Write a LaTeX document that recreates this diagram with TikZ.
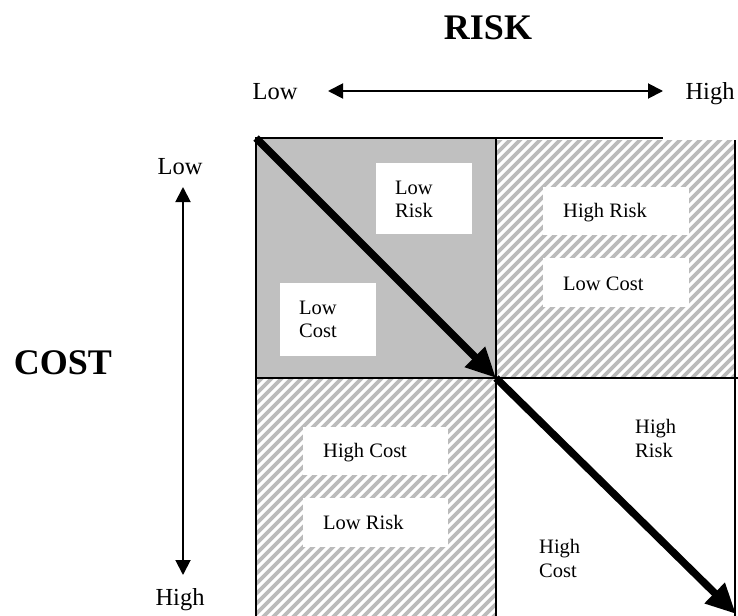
\documentclass[tikz,border=0pt]{standalone}
\usepackage{fontspec}
\setmainfont{Liberation Serif}
\usetikzlibrary{arrows.meta}
\definecolor{cellgray}{HTML}{C0C0C0}
\definecolor{hatchgray}{HTML}{BBBBBB}
\tikzset{
  grid line/.style={draw=black, line width=2.6pt},
  hatchline/.style={draw=hatchgray, line width=3.8pt},
  whitebox/.style={draw=none, fill=white, inner sep=0pt, anchor=north west},
  cell text/.style={font=\fontsize{20.5}{23.5}\selectfont, anchor=base west, inner sep=0pt},
  axis text/.style={font=\fontsize{24.5}{28}\selectfont, anchor=base, inner sep=0pt},
  title text/.style={font=\bfseries\fontsize{36}{40}\selectfont, anchor=base, inner sep=0pt},
  thin arrow/.style={line width=1.9pt, {Triangle[length=15pt,width=15pt]}-{Triangle[length=15pt,width=15pt]}},
  path arrow/.style={line width=7.5pt, -{Triangle[length=30pt,width=27pt]}}
}
\begin{document}
\begin{tikzpicture}[x=1pt, y=-1pt]
  \useasboundingbox (0,0) rectangle (738,615);

  % grid corners
  \coordinate (tl) at (256,138);
  \coordinate (c)  at (496,378);
  \coordinate (br) at (736,614);

  % top-left quadrant: solid grey
  \fill[cellgray] (256,138) rectangle (496,378);

  % top-right quadrant: diagonal hatching
  \begin{scope}
    \clip (496,140) rectangle (735,378);
    \foreach \k in {490,500,...,1130} \draw[hatchline] (\k,0) -- ({\k-700},700);
  \end{scope}
  % bottom-left quadrant: diagonal hatching
  \begin{scope}
    \clip (256,378) rectangle (496,615);
    \foreach \k in {620,630,...,1130} \draw[hatchline] (\k,0) -- ({\k-700},700);
  \end{scope}

  % white label panels
  \node[whitebox, minimum width=96pt, minimum height=71pt] (bLR) at (376,163) {};
  \node[whitebox, minimum width=96pt, minimum height=73pt] (bLC) at (280,283) {};
  \node[whitebox, minimum width=146pt, minimum height=48pt] (bHR) at (543,187) {};
  \node[whitebox, minimum width=146pt, minimum height=49pt] (bLC2) at (543,258) {};
  \node[whitebox, minimum width=145pt, minimum height=48pt] (bHC) at (303,427) {};
  \node[whitebox, minimum width=145pt, minimum height=49pt] (bLR2) at (303,498) {};

  % grid lines
  \draw[grid line] (256,138) -- (663,138);
  \draw[grid line] (256,137) -- (256,616);
  \draw[grid line] (496,137) -- (496,616);
  \draw[grid line] (735,140) -- (735,616);
  \draw[grid line] (255,378) -- (738,378);

  % diagonal path through the grid
  \draw[path arrow] (tl) -- (c);
  \draw[path arrow] (c) -- (br);

  % cell labels
  \node[cell text] (t1) at (395,194) {Low};
  \node[cell text] (t2) at (395,217) {Risk};
  \node[cell text] (t3) at (299,314) {Low};
  \node[cell text] (t4) at (299,337) {Cost};
  \node[cell text] (t5) at (563,217) {High Risk};
  \node[cell text] (t6) at (563,290) {Low Cost};
  \node[cell text] (t7) at (323,457) {High Cost};
  \node[cell text] (t8) at (323,529) {Low Risk};
  \node[cell text] (t9) at (635,433) {High};
  \node[cell text] (t10) at (635,457) {Risk};
  \node[cell text] (t11) at (539,553) {High};
  \node[cell text] (t12) at (539,577) {Cost};

  % risk axis
  \node[title text] (risk) at (488,40) {RISK};
  \node[axis text] (rlow) at (275,100) {Low};
  \node[axis text] (rhigh) at (710,100) {High};
  \coordinate (ra) at (328,91);
  \coordinate (rb) at (663,91);
  \draw[thin arrow] (ra) -- (rb);

  % cost axis
  \node[title text] (cost) at (63,374) {COST};
  \node[axis text] (clow) at (180,174) {Low};
  \node[axis text] (chigh) at (180,605) {High};
  \coordinate (ca) at (183,187);
  \coordinate (cb) at (183,575);
  \draw[thin arrow] (ca) -- (cb);
\end{tikzpicture}
\end{document}
